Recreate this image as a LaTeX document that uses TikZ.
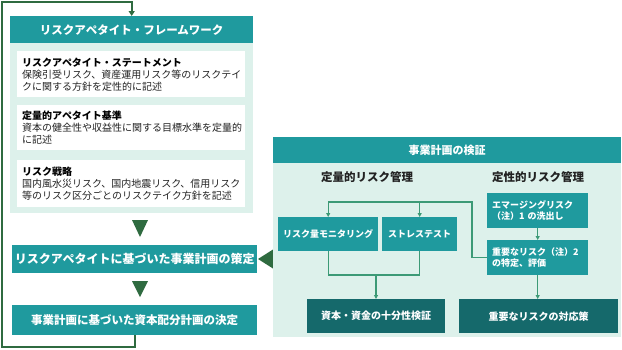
\documentclass[tikz,border=0pt]{standalone}
\usepackage{fontspec}
\setmainfont{Noto Sans CJK JP}
\usetikzlibrary{arrows.meta,positioning,calc}
\definecolor{riskTeal}{RGB}{31,154,158}
\definecolor{riskDarkTeal}{RGB}{21,105,107}
\definecolor{riskMint}{RGB}{221,241,235}
\definecolor{riskGreen}{RGB}{47,107,64}
\definecolor{riskLine}{RGB}{60,154,118}
\definecolor{riskInk}{RGB}{34,34,34}

\begin{document}
\begin{tikzpicture}[x=1pt,y=-1pt,
  hdr/.style={fill=riskTeal,text=white,inner sep=0pt,anchor=north west,font=\fontsize{11.5}{13}\selectfont\bfseries},
  panel/.style={fill=riskMint,inner sep=0pt,anchor=north west},
  note/.style={fill=white,anchor=north west,inner xsep=5pt,inner ysep=0pt,text width=218pt,align=left,text=riskInk,font=\fontsize{10}{12}\selectfont},
  plan/.style={fill=riskTeal,text=white,inner sep=0pt,anchor=north west,minimum width=245pt,font=\bfseries},
  tbox/.style={fill=riskTeal,text=white,inner sep=0pt,anchor=north west,font=\fontsize{9}{11.5}\selectfont\bfseries},
  dbox/.style={fill=riskDarkTeal,text=white,inner sep=0pt,anchor=north west,minimum height=34pt,font=\fontsize{10}{12}\selectfont\bfseries},
  link/.style={draw=riskLine,line width=1.2pt,-{Triangle[length=4pt,width=4pt]}},
  loopline/.style={draw=riskGreen,line width=2pt,-{Triangle[length=5pt,width=6pt]}}]
\useasboundingbox (0,0) rectangle (622,349);

% risk appetite framework
\node[hdr,minimum width=243pt,minimum height=27pt] (rafHead) at (10,16) {リスクアペタイト・フレームワーク};
\node[panel,minimum width=243pt,minimum height=170pt] (rafBody) at (10,43) {};
\node[note,minimum height=46pt] (stmt) at (17,51) {\textbf{\color{black}リスクアペタイト・ステートメント}\\保険引受リスク、資産運用リスク等のリスクテイ\\クに関する方針を定性的に記述};
\node[note,minimum height=45pt] (quant) at (17,105) {\textbf{\color{black}定量的アペタイト基準}\\資本の健全性や収益性に関する目標水準を定量的\\に記述};
\node[note,minimum height=47pt] (strat) at (17,160) {\textbf{\color{black}リスク戦略}\\国内風水災リスク、国内地震リスク、信用リスク\\等のリスク区分ごとのリスクテイク方針を記述};

\node[plan,minimum height=28pt,font=\fontsize{12}{14}\selectfont\bfseries] (planA) at (12,245) {リスクアペタイトに基づいた事業計画の策定};
\node[plan,minimum height=30pt,font=\fontsize{11.5}{14}\selectfont\bfseries] (planB) at (12,305) {事業計画に基づいた資本配分計画の決定};

% flow markers
\fill[riskGreen] (132,220) -- (148,220) -- (140,237) -- cycle;
\fill[riskGreen] (132,281) -- (148,281) -- (140,297) -- cycle;
\fill[riskGreen] (258,259) -- (273,249.5) -- (273,268.5) -- cycle;

% feedback loop
\draw[loopline] (planB.south) -- ++(0,12) -| (2,2) -| (rafHead.north);

% business plan verification
\node[hdr,minimum width=348pt,minimum height=26pt,font=\fontsize{11}{13}\selectfont\bfseries] (vHead) at (273,137) {事業計画の検証};
\node[panel,minimum width=348pt,minimum height=174pt] (vBody) at (273,163) {};
\node[text=riskInk,font=\fontsize{11.5}{13}\selectfont\bfseries] (quantT) at (367,177) {定量的リスク管理};
\node[text=riskInk,font=\fontsize{11.5}{13}\selectfont\bfseries] (qualT) at (538,177) {定性的リスク管理};

\node[tbox,minimum width=100pt,minimum height=34pt] (monitor) at (278,217) {リスク量モニタリング};
\node[tbox,minimum width=75pt,minimum height=34pt] (stress) at (382,217) {ストレステスト};
\node[tbox,minimum width=101pt,minimum height=35pt,text width=91pt,align=left] (emerge) at (487,193) {エマージングリスク\\（注）1 の洗出し};
\node[tbox,minimum width=101pt,minimum height=35pt,text width=91pt,align=left] (major) at (487,240) {重要なリスク（注）2\\の特定、評価};
\node[dbox,minimum width=138pt] (capital) at (307,299) {資本・資金の十分性検証};
\node[dbox,minimum width=159pt] (response) at (459,299) {重要なリスクの対応策};

\coordinate (split) at (472,202);
\draw[link] (major.west) -| (split) -| (monitor.north);
\draw[link] (stress.north |- split) -- (stress.north);
\coordinate (join) at (376,275);
\draw[riskLine,line width=1.2pt] (monitor.south) |- (join) -| (stress.south);
\draw[link] (join) -- (join |- capital.north);
\draw[link] (emerge.south) -- (emerge.south |- major.north);
\draw[link] (major.south) -- (major.south |- response.north);
\end{tikzpicture}
\end{document}
